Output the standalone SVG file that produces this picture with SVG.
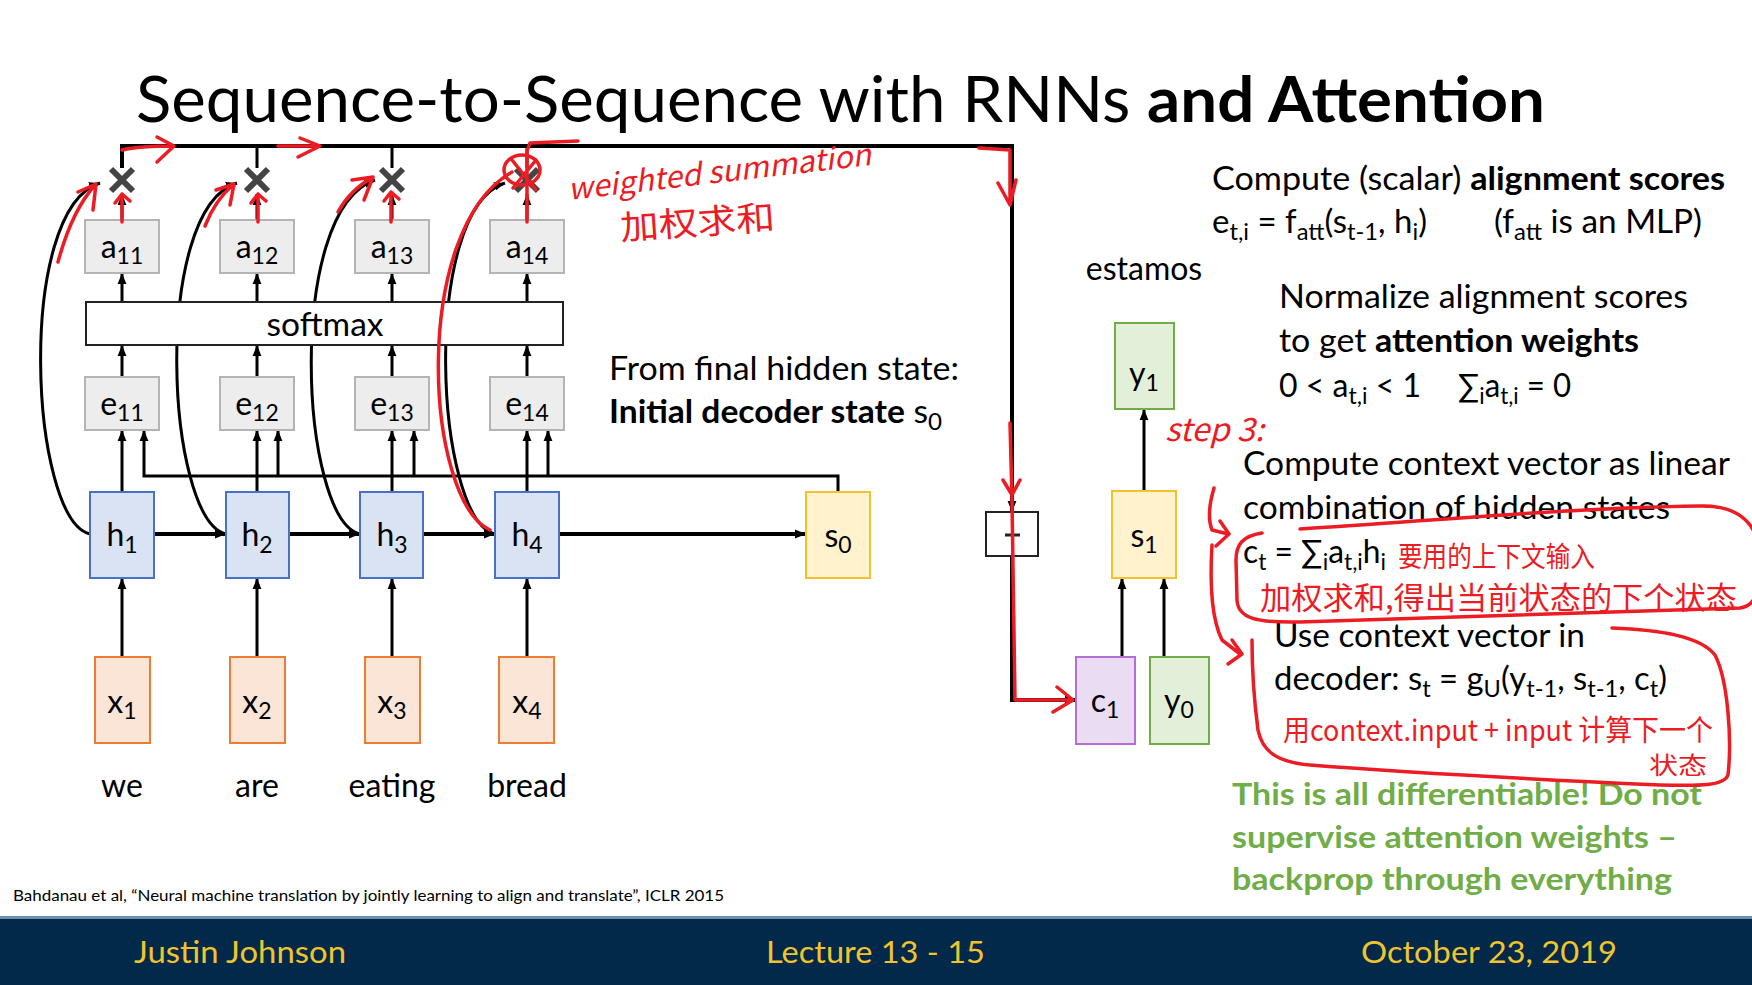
<svg xmlns="http://www.w3.org/2000/svg" width="1752" height="985" viewBox="0 0 1752 985">
<defs>
<style>
text{font-family:Lato,"Open Sans","Noto Sans",sans-serif;fill:#000}
.lbl{font-size:32px;text-anchor:middle}
.sub{font-size:23px}
.body{font-size:32px}
.b{font-weight:bold}
.ae{fill:#ededed;stroke:#b4b4b4;stroke-width:2}
.hb{fill:#dae3f3;stroke:#4a72c4;stroke-width:2}
.sb{fill:#fff2cc;stroke:#f2c12e;stroke-width:2}
.xb{fill:#fbe5d6;stroke:#ed7d31;stroke-width:2}
.yb{fill:#e2f0d9;stroke:#70ad47;stroke-width:2}
.cb{fill:#eadcf2;stroke:#b36fd3;stroke-width:2}
.ln{fill:none;stroke:#000;stroke-width:3}
.lnt{fill:none;stroke:#000;stroke-width:4}
.x{stroke:#444;stroke-width:6;stroke-linecap:butt}
.red{fill:none;stroke:#ec1c24;stroke-width:3.5;stroke-linecap:round;stroke-linejoin:round}
.rt{fill:#ec1c24;font-family:"Noto Sans CJK SC","Noto Sans",sans-serif}
.grn{fill:#70ad47;font-weight:bold;font-size:31px}
.foot{fill:#efc42f;font-size:31px}
</style>
<marker id="arr" viewBox="0 0 10 10" refX="10" refY="5" markerWidth="11" markerHeight="11" markerUnits="userSpaceOnUse" orient="auto"><path d="M0,1 L10,5 L0,9 z" fill="#000"/></marker>
</defs>
<rect width="1752" height="985" fill="#fff"/>

<text x="136" y="122" font-size="63" textLength="1409" lengthAdjust="spacingAndGlyphs">Sequence-to-Sequence with RNNs <tspan class="b">and Attention</tspan></text>

<g id="connectors">
<path class="lnt" d="M122,168 V146 H1012 V512" marker-end="url(#arr)"/>
<path class="ln" d="M257,168 V146 M392,168 V146 M527,168 V146"/>
<path class="lnt" d="M1012,556 V700 H1076" marker-end="url(#arr)"/>
<g class="ln">
<path d="M122,220 V194" marker-end="url(#arr)"/>
<path d="M257,220 V194" marker-end="url(#arr)"/>
<path d="M392,220 V194" marker-end="url(#arr)"/>
<path d="M527,220 V194" marker-end="url(#arr)"/>
<path d="M122,302 V273" marker-end="url(#arr)"/>
<path d="M257,302 V273" marker-end="url(#arr)"/>
<path d="M392,302 V273" marker-end="url(#arr)"/>
<path d="M527,302 V273" marker-end="url(#arr)"/>
<path d="M122,377 V345" marker-end="url(#arr)"/>
<path d="M257,377 V345" marker-end="url(#arr)"/>
<path d="M392,377 V345" marker-end="url(#arr)"/>
<path d="M527,377 V345" marker-end="url(#arr)"/>
<path d="M122,492 V430" marker-end="url(#arr)"/>
<path d="M257,492 V430" marker-end="url(#arr)"/>
<path d="M392,492 V430" marker-end="url(#arr)"/>
<path d="M527,492 V430" marker-end="url(#arr)"/>
<path d="M838,492 V476 H144 V430" marker-end="url(#arr)"/>
<path d="M278,476 V430" marker-end="url(#arr)"/>
<path d="M414,476 V430" marker-end="url(#arr)"/>
<path d="M548,476 V430" marker-end="url(#arr)"/>
<path d="M122,657 V578" marker-end="url(#arr)"/>
<path d="M257,657 V578" marker-end="url(#arr)"/>
<path d="M392,657 V578" marker-end="url(#arr)"/>
<path d="M527,657 V578" marker-end="url(#arr)"/>
<path d="M90,534 C30,520 15,210 100,183" marker-end="url(#arr)"/>
<path d="M226,534 C166,520 151,210 237,183" marker-end="url(#arr)"/>
<path d="M360,534 C300,520 285,210 375,180" marker-end="url(#arr)"/>
<path d="M495,534 C435,520 420,210 505,183" marker-end="url(#arr)"/>
<path d="M1122,657 V578" marker-end="url(#arr)"/>
<path d="M1164,657 V578" marker-end="url(#arr)"/>
<path d="M1144,491 V409" marker-end="url(#arr)"/>
</g>
<g class="lnt">
<path d="M154,534 H226" marker-end="url(#arr)"/>
<path d="M289,534 H360" marker-end="url(#arr)"/>
<path d="M423,534 H495" marker-end="url(#arr)"/>
<path d="M559,534 H806" marker-end="url(#arr)"/>
</g>
</g>

<g id="mul1"><path class="x" d="M111,169 L133,191 M133,169 L111,191"/></g>
<g id="mul2"><path class="x" d="M246,169 L268,191 M268,169 L246,191"/></g>
<g id="mul3"><path class="x" d="M381,169 L403,191 M403,169 L381,191"/></g>
<g id="mul4"><path class="x" d="M516,169 L538,191 M538,169 L516,191"/></g>

<g id="a11"><rect class="ae" x="85" y="220" width="74" height="53"/><text class="lbl" x="122" y="258">a<tspan class="sub" dy="6">11</tspan></text></g>
<g id="a12"><rect class="ae" x="220" y="220" width="74" height="53"/><text class="lbl" x="257" y="258">a<tspan class="sub" dy="6">12</tspan></text></g>
<g id="a13"><rect class="ae" x="355" y="220" width="74" height="53"/><text class="lbl" x="392" y="258">a<tspan class="sub" dy="6">13</tspan></text></g>
<g id="a14"><rect class="ae" x="490" y="220" width="74" height="53"/><text class="lbl" x="527" y="258">a<tspan class="sub" dy="6">14</tspan></text></g>

<g id="softmax"><rect x="86" y="302" width="477" height="43" fill="#fff" stroke="#222" stroke-width="2"/><text class="lbl" x="325" y="336" font-size="33" textLength="117" lengthAdjust="spacingAndGlyphs">softmax</text></g>

<g id="e11"><rect class="ae" x="85" y="377" width="74" height="53"/><text class="lbl" x="122" y="415">e<tspan class="sub" dy="6">11</tspan></text></g>
<g id="e12"><rect class="ae" x="220" y="377" width="74" height="53"/><text class="lbl" x="257" y="415">e<tspan class="sub" dy="6">12</tspan></text></g>
<g id="e13"><rect class="ae" x="355" y="377" width="74" height="53"/><text class="lbl" x="392" y="415">e<tspan class="sub" dy="6">13</tspan></text></g>
<g id="e14"><rect class="ae" x="490" y="377" width="74" height="53"/><text class="lbl" x="527" y="415">e<tspan class="sub" dy="6">14</tspan></text></g>

<g id="h1"><rect class="hb" x="90" y="492" width="64" height="86"/><text class="lbl" x="122" y="546">h<tspan class="sub" dy="7">1</tspan></text></g>
<g id="h2"><rect class="hb" x="226" y="492" width="63" height="86"/><text class="lbl" x="257" y="546">h<tspan class="sub" dy="7">2</tspan></text></g>
<g id="h3"><rect class="hb" x="360" y="492" width="63" height="86"/><text class="lbl" x="392" y="546">h<tspan class="sub" dy="7">3</tspan></text></g>
<g id="h4"><rect class="hb" x="495" y="492" width="64" height="86"/><text class="lbl" x="527" y="546">h<tspan class="sub" dy="7">4</tspan></text></g>
<g id="s0"><rect class="sb" x="806" y="492" width="64" height="86"/><text class="lbl" x="838" y="547">s<tspan class="sub" dy="6">0</tspan></text></g>

<g id="x1"><rect class="xb" x="95" y="657" width="55" height="86"/><text class="lbl" x="122" y="713">x<tspan class="sub" dy="6">1</tspan></text></g>
<g id="x2"><rect class="xb" x="230" y="657" width="55" height="86"/><text class="lbl" x="257" y="713">x<tspan class="sub" dy="6">2</tspan></text></g>
<g id="x3"><rect class="xb" x="365" y="657" width="55" height="86"/><text class="lbl" x="392" y="713">x<tspan class="sub" dy="6">3</tspan></text></g>
<g id="x4"><rect class="xb" x="499" y="657" width="55" height="86"/><text class="lbl" x="527" y="713">x<tspan class="sub" dy="6">4</tspan></text></g>

<g id="words">
<text class="lbl" x="122" y="797" font-size="31">we</text>
<text class="lbl" x="257" y="797" font-size="31">are</text>
<text class="lbl" x="392" y="797" font-size="31">eating</text>
<text class="lbl" x="527" y="797" font-size="31">bread</text>
</g>

<g id="plus"><rect x="986" y="512" width="52" height="44" fill="#fff" stroke="#222" stroke-width="2"/><path d="M1005,535 H1020" stroke="#222" stroke-width="3"/></g>
<g id="c1"><rect class="cb" x="1076" y="657" width="59" height="87"/><text class="lbl" x="1105" y="712">c<tspan class="sub" dy="6">1</tspan></text></g>
<g id="y0"><rect class="yb" x="1150" y="657" width="59" height="87"/><text class="lbl" x="1179" y="712">y<tspan class="sub" dy="6">0</tspan></text></g>
<g id="s1"><rect class="sb" x="1112" y="491" width="64" height="87"/><text class="lbl" x="1144" y="547">s<tspan class="sub" dy="6">1</tspan></text></g>
<g id="y1"><rect class="yb" x="1115" y="323" width="59" height="86"/><text class="lbl" x="1144" y="385">y<tspan class="sub" dy="6">1</tspan></text></g>
<text class="lbl" x="1144" y="280" font-size="31">estamos</text>

<g id="notes">
<text class="body" x="609" y="380" textLength="350" lengthAdjust="spacingAndGlyphs">From final hidden state:</text>
<text class="body" x="609" y="423" textLength="333" lengthAdjust="spacingAndGlyphs"><tspan class="b">Initial decoder state</tspan> s<tspan class="sub" dy="7">0</tspan></text>

<text class="body" x="1212" y="190" textLength="513" lengthAdjust="spacingAndGlyphs">Compute (scalar) <tspan class="b">alignment scores</tspan></text>
<text class="body" x="1212" y="233" textLength="215" lengthAdjust="spacingAndGlyphs">e<tspan class="sub" dy="7">t,i</tspan><tspan dy="-7"> = f</tspan><tspan class="sub" dy="7">att</tspan><tspan dy="-7">(s</tspan><tspan class="sub" dy="7">t-1</tspan><tspan dy="-7">, h</tspan><tspan class="sub" dy="7">i</tspan><tspan dy="-7">)</tspan></text>
<text class="body" x="1494" y="233" textLength="208" lengthAdjust="spacingAndGlyphs">(f<tspan class="sub" dy="7">att</tspan><tspan dy="-7"> is an MLP)</tspan></text>
<text class="body" x="1279" y="308" textLength="409" lengthAdjust="spacingAndGlyphs">Normalize alignment scores</text>
<text class="body" x="1279" y="352" textLength="360" lengthAdjust="spacingAndGlyphs">to get <tspan class="b">attention weights</tspan></text>
<text class="body" x="1279" y="397" textLength="142" lengthAdjust="spacingAndGlyphs">0 &lt; a<tspan class="sub" dy="7">t,i</tspan><tspan dy="-7"> &lt; 1</tspan></text>
<text class="body" x="1458" y="397" textLength="113" lengthAdjust="spacingAndGlyphs">∑<tspan class="sub" dy="7">i</tspan><tspan dy="-7">a</tspan><tspan class="sub" dy="7">t,i</tspan><tspan dy="-7"> = 0</tspan></text>
<text class="body" x="1243" y="475" textLength="487" lengthAdjust="spacingAndGlyphs">Compute context vector as linear</text>
<text class="body" x="1243" y="519" textLength="427" lengthAdjust="spacingAndGlyphs">combination of hidden states</text>
<text class="body" x="1243" y="563" textLength="143" lengthAdjust="spacingAndGlyphs">c<tspan class="sub" dy="7">t</tspan><tspan dy="-7"> = ∑</tspan><tspan class="sub" dy="7">i</tspan><tspan dy="-7">a</tspan><tspan class="sub" dy="7">t,i</tspan><tspan dy="-7">h</tspan><tspan class="sub" dy="7">i</tspan></text>
<text class="body" x="1274" y="647" textLength="311" lengthAdjust="spacingAndGlyphs">Use context vector in</text>
<text class="body" x="1274" y="690" textLength="393" lengthAdjust="spacingAndGlyphs">decoder: s<tspan class="sub" dy="7">t</tspan><tspan dy="-7"> = g</tspan><tspan class="sub" dy="7">U</tspan><tspan dy="-7">(y</tspan><tspan class="sub" dy="7">t-1</tspan><tspan dy="-7">, s</tspan><tspan class="sub" dy="7">t-1</tspan><tspan dy="-7">, c</tspan><tspan class="sub" dy="7">t</tspan><tspan dy="-7">)</tspan></text>
<text class="grn" x="1232" y="805" textLength="470" lengthAdjust="spacingAndGlyphs">This is all differentiable! Do not</text>
<text class="grn" x="1232" y="848" textLength="445" lengthAdjust="spacingAndGlyphs">supervise attention weights –</text>
<text class="grn" x="1232" y="890" textLength="440" lengthAdjust="spacingAndGlyphs">backprop through everything</text>
</g>

<text x="13" y="901" font-size="15" textLength="711" lengthAdjust="spacingAndGlyphs">Bahdanau et al, “Neural machine translation by jointly learning to align and translate”, ICLR 2015</text>

<g id="footer">
<rect x="0" y="917" width="1752" height="68" fill="#02284a"/>
<rect x="0" y="916" width="1752" height="3" fill="#6f8fb0"/>
<text class="foot" x="134" y="963" textLength="212" lengthAdjust="spacingAndGlyphs">Justin Johnson</text>
<text class="foot" x="766" y="963" textLength="219" lengthAdjust="spacingAndGlyphs">Lecture 13 - 15</text>
<text class="foot" x="1361" y="963" textLength="256" lengthAdjust="spacingAndGlyphs">October 23, 2019</text>
</g>

<g id="annotations">
<path class="red" d="M122,150 Q140,146 173,146 M157,137 L174,146 L157,162"/>
<path class="red" d="M278,146 L320,146 M300,138 L320,146 L298,157"/>
<path class="red" d="M58,262 Q72,210 96,184 M78,192 L96,184 L93,210"/>
<path class="red" d="M205,226 Q215,200 234,184 M216,190 L234,184 L230,205"/>
<path class="red" d="M338,212 Q350,190 373,177 M352,180 L373,177 L364,200"/>
<path class="red" d="M122,222 V194 M115,203 L122,194 L130,201"/>
<path class="red" d="M258,222 V194 M251,203 L258,194 L266,201"/>
<path class="red" d="M391,222 V192 M384,201 L391,192 L399,199"/>
<ellipse class="red" cx="522" cy="170" rx="18" ry="15"/>
<path class="red" d="M512,160 L536,190 M536,160 L513,188 M527,222 L527,151 L530,143 L578,141"/>
<path class="red" d="M490,530 C425,500 410,230 512,172"/>
<path class="red" d="M979,148 L1010,150 L1010,205 M998,183 L1010,205 L1016,180"/>
<path class="red" d="M1010,423 L1012,500 L1015,700 L1073,700 M1003,480 L1012,495 L1020,480 M1057,687 L1073,700 L1053,712"/>
<path class="red" d="M1214,488 Q1206,515 1212,530 L1228,534 M1220,521 L1229,534 L1216,546"/>
<path class="red" d="M1212,545 Q1208,612 1222,640 L1240,654 M1232,640 L1242,654 L1228,664"/>
<path class="red" d="M1300,529 C1420,522 1560,508 1700,506 C1745,505 1760,530 1760,560 C1760,600 1752,606 1740,608 C1600,612 1450,617 1300,622 C1255,623 1238,618 1237,600 L1236,560 C1236,545 1242,536 1262,533"/>
<path class="red" d="M1612,628 C1660,630 1700,636 1715,655 C1728,680 1732,740 1728,775 C1724,786 1700,786 1660,785 C1550,780 1400,772 1310,765 C1275,762 1262,750 1258,730 C1254,700 1252,670 1252,640"/>
<text class="rt" x="569" y="200" font-size="30" font-style="italic" textLength="305" lengthAdjust="spacingAndGlyphs" transform="rotate(-6.6 569 200)">weighted summation</text>
<text class="rt" x="621" y="240" font-size="34" textLength="155" lengthAdjust="spacingAndGlyphs" transform="rotate(-4 621 240)">加权求和</text>
<text class="rt" x="1165" y="441" font-size="32" font-style="italic" textLength="99" lengthAdjust="spacingAndGlyphs">step 3:</text>
<text class="rt" x="1398" y="567" font-size="28" textLength="197" lengthAdjust="spacingAndGlyphs">要用的上下文输入</text>
<text class="rt" x="1260" y="609" font-size="31" textLength="477" lengthAdjust="spacingAndGlyphs">加权求和,得出当前状态的下个状态</text>
<text class="rt" x="1283" y="741" font-size="29" textLength="430" lengthAdjust="spacingAndGlyphs">用context.input + input 计算下一个</text>
<text class="rt" x="1649" y="774" font-size="24" textLength="58" lengthAdjust="spacingAndGlyphs">状态</text>
</g>
</svg>
